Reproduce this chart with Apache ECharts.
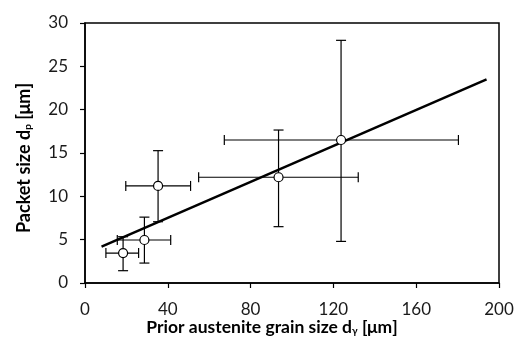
<!DOCTYPE html>
<html><head><meta charset="utf-8">
<script src="https://cdn.jsdelivr.net/npm/echarts@6/dist/echarts.min.js"></script>
<style>html,body{margin:0;padding:0;background:#fff}#c{width:517px;height:340px}</style>
</head><body><div id="c"></div>
<script>
// Data
const xVals = [18.4, 28.7, 35.3, 93.5, 123.7];
const yVals = [3.45, 4.96, 11.2, 12.2, 16.5];
const xLow  = [10.1, 15.6, 19.7, 54.9, 67.3];
const xHigh = [25.9, 41.4, 51.0, 132.0, 180.4];
const yLow  = [1.42, 2.3, 7.07, 6.5, 4.8];
const yHigh = [5.34, 7.6, 15.27, 17.65, 28.0];
const trendX = [8, 194];
const trendY = [4.2, 23.5];
const xTicks = [0, 40, 80, 120, 160, 200];
const yTicks = [0, 5, 10, 15, 20, 25, 30];

const FONT = 'Lato';
const chart = echarts.init(document.getElementById('c'));
const errData = xVals.map((x, i) => [x, yVals[i], xLow[i], xHigh[i], yLow[i], yHigh[i]]);
const cap = 5;
const subStyle = {fontSize: 10, fontFamily: FONT, fontWeight: 'bold', color: '#000', verticalAlign: 'bottom', padding: [7, 0, 0, 0]};
chart.setOption({
  animation: false,
  grid: {left: 85, right: 18, top: 23, bottom: 57, containLabel: false, outerBoundsMode: 'none',
    show: true, borderColor: '#000', borderWidth: 1.5, backgroundColor: 'transparent'},
  xAxis: {
    type: 'value', min: xTicks[0], max: xTicks[xTicks.length - 1], interval: 40,
    axisLine: {show: true, onZero: false, lineStyle: {color: '#000', width: 1.5}},
    axisTick: {show: true, inside: false, length: 5, lineStyle: {color: '#000', width: 1.2}},
    splitLine: {show: false},
    axisLabel: {color: '#1a1a1a', fontFamily: FONT, fontSize: 17, margin: 18},
    name: 'Prior austenite grain size d{sub|γ} [μm]',
    nameLocation: 'middle', nameGap: 35, nameMoveOverlap: false,
    nameTextStyle: {color: '#000', fontFamily: FONT, fontSize: 17.5, fontWeight: 'bold', padding: [0, 40, 0, 0],
      rich: {sub: subStyle}}
  },
  yAxis: {
    type: 'value', min: yTicks[0], max: yTicks[yTicks.length - 1], interval: 5,
    axisLine: {show: true, onZero: false, lineStyle: {color: '#000', width: 1.5}},
    axisTick: {show: true, inside: false, length: 5, lineStyle: {color: '#000', width: 1.2}},
    splitLine: {show: false},
    axisLabel: {color: '#1a1a1a', fontFamily: FONT, fontSize: 17, margin: 17},
    name: 'Packet size d{sub|p} [μm]',
    nameLocation: 'middle', nameGap: 52, nameRotate: 90, nameMoveOverlap: false,
    nameTextStyle: {color: '#000', fontFamily: FONT, fontSize: 18, fontWeight: 'bold', padding: [0, 10, 0, 0],
      rich: {sub: subStyle}}
  },
  series: [
    {
      type: 'line', data: trendX.map((x, i) => [x, trendY[i]]), symbol: 'none',
      lineStyle: {color: '#000', width: 2.5}, z: 3
    },
    {
      type: 'custom', z: 2,
      renderItem: function (params, api) {
        const c = api.coord([api.value(0), api.value(1)]);
        const xl = api.coord([api.value(2), api.value(1)]);
        const xh = api.coord([api.value(3), api.value(1)]);
        const yl = api.coord([api.value(0), api.value(4)]);
        const yh = api.coord([api.value(0), api.value(5)]);
        const st = {stroke: '#000', lineWidth: 1.2};
        return {type: 'group', children: [
          {type: 'line', shape: {x1: xl[0], y1: c[1], x2: xh[0], y2: c[1]}, style: st},
          {type: 'line', shape: {x1: xl[0], y1: c[1] - cap, x2: xl[0], y2: c[1] + cap}, style: st},
          {type: 'line', shape: {x1: xh[0], y1: c[1] - cap, x2: xh[0], y2: c[1] + cap}, style: st},
          {type: 'line', shape: {x1: c[0], y1: yl[1], x2: c[0], y2: yh[1]}, style: st},
          {type: 'line', shape: {x1: c[0] - cap, y1: yl[1], x2: c[0] + cap, y2: yl[1]}, style: st},
          {type: 'line', shape: {x1: c[0] - cap, y1: yh[1], x2: c[0] + cap, y2: yh[1]}, style: st}
        ]};
      },
      data: errData
    },
    {
      type: 'scatter', data: xVals.map((x, i) => [x, yVals[i]]), symbol: 'circle', symbolSize: 9,
      itemStyle: {color: '#fff', borderColor: '#000', borderWidth: 1.2, opacity: 1}, z: 5
    }
  ]
});
</script></body></html>
